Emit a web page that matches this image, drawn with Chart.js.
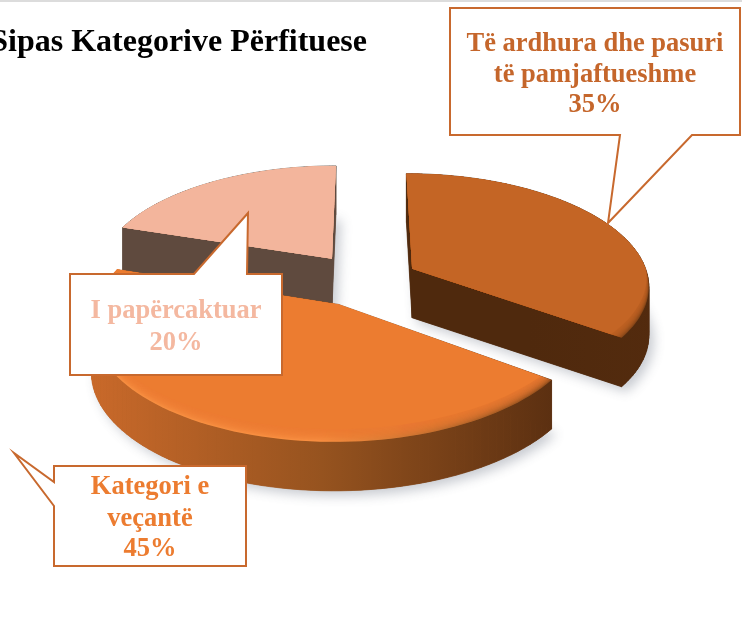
<!DOCTYPE html>
<html>
<head>
<meta charset="utf-8">
<title>Sipas Kategorive Përfituese</title>
<script src="https://cdn.jsdelivr.net/npm/chart.js@4"></script>
<style>
  html, body { margin: 0; padding: 0; background: #fff; }
  canvas { position: absolute; left: 0; top: 0; }
</style>
</head>
<body>
<canvas id="chart" width="742" height="621"></canvas>
<script>
// ====== DATA ======
const chartTitle = "Sipas Kategorive Përfituese";
const categories = ["Të ardhura dhe pasuri të pamjaftueshme", "Kategori e veçantë", "I papërcaktuar"];
const values = [35, 45, 20];
const labelLines = [["Të ardhura dhe pasuri", "të pamjaftueshme"], ["Kategori e", "veçantë"], ["I papërcaktuar"]];

// ====== STYLE ======
const topColors = ["#C46525", "#EC7C30", "#F3B59C"];
const sideColors = [
  ["#4F290D", "#4F290D", "#532B0E"],
  ["#C9692A", "#96531F", "#5C3011"],
  ["#5F4A3E", "#5F4A3E", "#5F4A3E"],
];
const rimColors = [
  ["#C46525", "#A8571F", "#6E3A13"],
  ["#FA9445", "#FB9444", "#7D4417"],
  ["#F3B59C", "#F3B59C", "#F3B59C"],
];
const textColors = ["#C5662B", "#EC7C30", "#F4B8A0"];
const sliceOffsets = [52, 55, 56];
const lineColor = "#C8692E";

const TILT = 0.483;        // vertical squash of the pie plane
const STRETCH = 1.03;      // horizontal stretch of the pie plane
const PERSPECTIVE = 0.0006; // front of the pie grows, back shrinks
const DEPTH = 49;
const BEVEL = 0.08;

// text and callout outline of each slice
const callouts = [
  { box: [450, 8, 740, 135], tail: [[692, 135], [608, 223], [620, 135]], side: "bottom", cx: 595, lines: [51, 82, 112] },
  { box: [54, 466, 246, 566], tail: [[54, 506], [14, 453], [54, 482]], side: "left", cx: 150, lines: [494, 526, 556] },
  { box: [70, 274, 282, 375], tail: [[194, 274], [248, 213], [247, 274]], side: "top", cx: 176, lines: [318, 350] },
];

// ====== PROJECTION OF AN ARC ELEMENT ======
function projectPoint(arc, angle, radius) {
  const mid = (arc.startAngle + arc.endAngle) / 2;
  const off = arc.options.offset;
  const u = off * Math.cos(mid) + radius * Math.cos(angle);
  const v = off * Math.sin(mid) + radius * Math.sin(angle);
  const w = 1 - PERSPECTIVE * v;
  return { x: arc.x + (STRETCH * u) / w, y: arc.y + (TILT * v) / w };
}

// inset > 0 pulls the edge inward, only where it faces the viewer
function outline(arc, inset) {
  const pts = [projectPoint(arc, arc.startAngle, 0)];
  const steps = 80;
  for (let i = 0; i <= steps; i++) {
    const a = arc.startAngle + ((arc.endAngle - arc.startAngle) * i) / steps;
    const scale = 1 - inset * Math.max(0, Math.sin(a));
    pts.push(projectPoint(arc, a, arc.outerRadius * scale));
  }
  return pts;
}

function fillPoly(ctx, pts, dy) {
  ctx.beginPath();
  pts.forEach((p, i) => {
    if (i === 0) ctx.moveTo(p.x, p.y + dy);
    else ctx.lineTo(p.x, p.y + dy);
  });
  ctx.closePath();
  ctx.fill();
}

function horizontalGradient(ctx, pts, stops) {
  const xs = pts.map((p) => p.x);
  const g = ctx.createLinearGradient(Math.min(...xs), 0, Math.max(...xs), 0);
  stops.forEach((c, i) => g.addColorStop(i / (stops.length - 1), c));
  return g;
}

function drawSlice(ctx, arc, i) {
  const pts = outline(arc, 0);

  // soft shadow under the slice
  ctx.save();
  ctx.shadowColor = "rgba(70,80,100,0.3)";
  ctx.shadowBlur = 12;
  ctx.shadowOffsetX = 5;
  ctx.shadowOffsetY = 5;
  ctx.fillStyle = sideColors[i][1];
  fillPoly(ctx, pts, DEPTH);
  ctx.restore();

  // side walls
  const sideFill = horizontalGradient(ctx, pts, sideColors[i]);
  ctx.fillStyle = sideFill;
  ctx.strokeStyle = sideFill;
  ctx.lineWidth = 0.7;
  for (let k = 0; k < pts.length; k++) {
    const a = pts[k];
    const b = pts[(k + 1) % pts.length];
    ctx.beginPath();
    ctx.moveTo(a.x, a.y);
    ctx.lineTo(b.x, b.y);
    ctx.lineTo(b.x, b.y + DEPTH);
    ctx.lineTo(a.x, a.y + DEPTH);
    ctx.closePath();
    ctx.fill();
    ctx.stroke();
  }

  // top face with the rounded rim
  ctx.fillStyle = horizontalGradient(ctx, pts, rimColors[i]);
  fillPoly(ctx, pts, 0);
  ctx.save();
  ctx.fillStyle = topColors[i];
  const rimSteps = 10;
  for (let s = 0; s <= rimSteps; s++) {
    ctx.globalAlpha = s === rimSteps ? 1 : 0.22;
    fillPoly(ctx, outline(arc, (BEVEL * s) / rimSteps), 0);
  }
  ctx.restore();
}

// ====== CALLOUTS ======
function drawCallout(ctx, c, i) {
  const [x0, y0, x1, y1] = c.box;
  const t = c.tail;
  ctx.beginPath();
  ctx.moveTo(x0, y0);
  if (c.side === "top") t.forEach((p) => ctx.lineTo(p[0], p[1]));
  ctx.lineTo(x1, y0);
  ctx.lineTo(x1, y1);
  if (c.side === "bottom") t.forEach((p) => ctx.lineTo(p[0], p[1]));
  ctx.lineTo(x0, y1);
  if (c.side === "left") t.forEach((p) => ctx.lineTo(p[0], p[1]));
  ctx.closePath();
  ctx.fillStyle = "#fff";
  ctx.fill();
  ctx.strokeStyle = lineColor;
  ctx.lineWidth = 2;
  ctx.lineJoin = "miter";
  ctx.stroke();

  ctx.font = "bold 26.5px 'Liberation Serif'";
  ctx.textAlign = "center";
  ctx.textBaseline = "alphabetic";
  ctx.fillStyle = textColors[i];
  const lines = [...labelLines[i], values[i] + "%"];
  lines.forEach((line, k) => ctx.fillText(line, c.cx, c.lines[k]));
}

// ====== PLUGIN: 3D PIE ======
const pie3d = {
  id: "pie3d",
  beforeDatasetsDraw(chart) {
    const ctx = chart.ctx;
    const arcs = chart.getDatasetMeta(0).data;
    const order = arcs.map((a, i) => i).sort((a, b) => {
      const mid = (k) => (arcs[k].startAngle + arcs[k].endAngle) / 2;
      return sliceOffsets[a] * Math.sin(mid(a)) - sliceOffsets[b] * Math.sin(mid(b));
    });
    order.forEach((i) => drawSlice(ctx, arcs[i], i));
    return false;
  },
  afterDraw(chart) {
    const ctx = chart.ctx;
    ctx.save();
    // thin rule along the top of the picture
    ctx.fillStyle = "#DCDCDC";
    ctx.fillRect(0, 0, chart.width, 2);

    ctx.font = "bold 32px 'Liberation Serif'";
    ctx.textAlign = "right";
    ctx.textBaseline = "alphabetic";
    ctx.fillStyle = "#000";
    ctx.fillText(chartTitle, 367, 51);

    callouts.forEach((c, i) => drawCallout(ctx, c, i));
    ctx.restore();
  },
};

// ====== CHART ======
new Chart(document.getElementById("chart"), {
  type: "pie",
  data: {
    labels: categories,
    datasets: [{ data: values, backgroundColor: topColors, borderWidth: 0, offset: sliceOffsets, hoverOffset: 0 }],
  },
  options: {
    responsive: false,
    animation: false,
    layout: { padding: { left: 0, right: 12, top: 22, bottom: 83 } },
    plugins: { legend: { display: false }, tooltip: { enabled: false } },
  },
  plugins: [pie3d],
});
</script>
</body>
</html>
